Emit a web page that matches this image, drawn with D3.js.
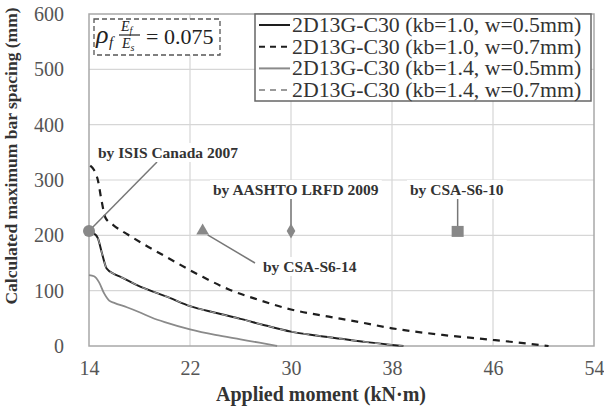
<!DOCTYPE html>
<html>
<head>
<meta charset="utf-8">
<script src="https://cdn.jsdelivr.net/npm/d3@7"></script>
<style>
  body { margin: 0; background: #fff; }
  svg { display: block; }
  svg text { font-family: "Liberation Serif", "Times New Roman", serif; }
</style>
</head>
<body>
<div id="chart"></div>
<script>
// series data (applied moment kN·m, spacing mm)
const s1x = [14, 14.3, 14.7, 15.0, 15.4, 16.0, 16.5, 17.8, 20.4, 22, 24, 26, 28, 30, 32, 34, 36, 38, 38.9];
const s1y = [208, 205, 195, 170, 140, 130, 125, 110, 87, 72, 60, 49, 37, 26, 19, 13, 7, 2, 0];

const s2x = [14.1, 14.4, 14.7, 15.0, 15.3, 15.9, 17.1, 18.4, 20.2, 22, 23, 25, 27.5, 30, 33, 35, 38, 42, 46, 50.4];
const s2y = [326, 318, 300, 262, 232, 219, 201, 183, 160, 137, 125, 103, 83, 66, 53, 45, 32, 20, 11, 0];

const s3x = [14, 14.4, 14.8, 15.2, 15.6, 16, 17, 18, 19, 20, 22, 24, 26, 27.5, 28.9];
const s3y = [128, 126, 115, 95, 82, 78, 70, 61, 51, 43, 30, 20, 12, 6, 0];

// kb=1.4, w=0.7 falls on top of kb=1.0, w=0.5
const s4x = s1x.slice();
const s4y = s1y.slice();

const seriesNames = [
    "2D13G-C30 (kb=1.0, w=0.5mm)",
    "2D13G-C30 (kb=1.0, w=0.7mm)",
    "2D13G-C30 (kb=1.4, w=0.5mm)",
    "2D13G-C30 (kb=1.4, w=0.7mm)"
];

// code limits markers
const markerNames = ["ISIS", "CSA-S6-14", "AASHTO", "CSA-S6-10"];
const markerX = [14, 23, 30, 43.2];
const markerY = [208, 208, 208, 208];

const xTicks = [14, 22, 30, 38, 46, 54];
const yTicks = [0, 100, 200, 300, 400, 500, 600];

const W = 604, H = 407;
const margin = { top: 14, right: 10, bottom: 61, left: 89 };
const width = W - margin.left - margin.right;
const height = H - margin.top - margin.bottom;

const svg = d3.select("#chart").append("svg")
    .attr("width", W).attr("height", H);

const g = svg.append("g")
    .attr("transform", "translate(" + margin.left + "," + margin.top + ")");

const x = d3.scaleLinear().domain([14, 54]).range([0, width]);
const y = d3.scaleLinear().domain([0, 600]).range([height, 0]);

// grid
g.append("g").selectAll("line").data(xTicks.slice(1, -1)).enter().append("line")
    .attr("x1", d => x(d)).attr("x2", d => x(d))
    .attr("y1", 0).attr("y2", height)
    .attr("stroke", "#d6d6d6").attr("stroke-width", 1.2);
g.append("g").selectAll("line").data(yTicks.slice(1, -1)).enter().append("line")
    .attr("x1", 0).attr("x2", width)
    .attr("y1", d => y(d)).attr("y2", d => y(d))
    .attr("stroke", "#d6d6d6").attr("stroke-width", 1.2);

// frame
g.append("rect")
    .attr("x", 0).attr("y", 0).attr("width", width).attr("height", height)
    .attr("fill", "none").attr("stroke", "#a8a8a8").attr("stroke-width", 1.5);

// axes (labels only)
const xAxis = g.append("g")
    .attr("transform", "translate(0," + height + ")")
    .call(d3.axisBottom(x).tickValues(xTicks).tickSize(0).tickPadding(15).tickFormat(d3.format("d")));
xAxis.select(".domain").remove();
xAxis.selectAll("text")
    .attr("fill", "#555").style("font-size", "20px")
    .style("font-family", "'Liberation Serif', serif");

const yAxis = g.append("g")
    .call(d3.axisLeft(y).tickValues(yTicks).tickSize(0).tickPadding(25).tickFormat(d3.format("d")));
yAxis.select(".domain").remove();
yAxis.selectAll("text")
    .attr("fill", "#555").style("font-size", "20px")
    .style("font-family", "'Liberation Serif', serif");

// axis titles
svg.append("text")
    .attr("x", 321).attr("y", 401)
    .attr("text-anchor", "middle")
    .attr("font-weight", "bold").attr("font-size", 20).attr("fill", "#333")
    .text("Applied moment (kN\u00b7m)");

svg.append("text")
    .attr("transform", "translate(17,156) rotate(-90)")
    .attr("text-anchor", "middle")
    .attr("font-weight", "bold").attr("font-size", 17.5).attr("fill", "#333")
    .text("Calculated maximum bar spacing (mm)");

// curves
const line = d3.line().x(d => x(d[0])).y(d => y(d[1])).curve(d3.curveMonotoneX);
const zip = (a, b) => a.map((v, i) => [v, b[i]]);

const styles = [
    { color: "#1e1e1e", dash: null, w: 2 },
    { color: "#1e1e1e", dash: "7,6", w: 2.2 },
    { color: "#8a8a8a", dash: null, w: 1.8 },
    { color: "#9a9a9a", dash: "6,6", w: 1.2 }
];
const seriesData = [zip(s1x, s1y), zip(s2x, s2y), zip(s3x, s3y), zip(s4x, s4y)];

seriesData.forEach((data, i) => {
    g.append("path")
        .datum(data)
        .attr("d", line)
        .attr("fill", "none")
        .attr("stroke", styles[i].color)
        .attr("stroke-width", styles[i].w)
        .attr("stroke-dasharray", styles[i].dash);
});

// leader lines
const mk = markerNames.map((n, i) => ({ name: n, px: x(markerX[i]), py: y(markerY[i]) }));
const leaders = [
    [mk[0].px, mk[0].py, 157 - margin.left, 162 - margin.top],
    [mk[1].px + 5, mk[1].py + 4, 255 - margin.left, 263 - margin.top],
    [mk[2].px, mk[2].py, mk[2].px, 198 - margin.top],
    [mk[3].px, mk[3].py, mk[3].px, 198 - margin.top]
];
leaders.forEach(l => {
    g.append("line")
        .attr("x1", l[0]).attr("y1", l[1]).attr("x2", l[2]).attr("y2", l[3])
        .attr("stroke", "#777").attr("stroke-width", 1.5);
});

// annotation labels with white backgrounds
function label(tx, ty, txt) {
    const lg = g.append("g");
    const bg = lg.append("rect").attr("fill", "#fff");
    const t = lg.append("text")
        .attr("x", tx).attr("y", ty)
        .attr("font-weight", "bold").attr("font-size", 15.5).attr("fill", "#333")
        .text(txt);
    const bb = t.node().getBBox();
    bg.attr("x", bb.x - 3).attr("y", bb.y - 1)
        .attr("width", bb.width + 6).attr("height", bb.height + 2);
}

label(98 - margin.left, 158 - margin.top, "by ISIS Canada 2007");
label(213 - margin.left, 195 - margin.top, "by AASHTO LRFD 2009");
label(410 - margin.left, 195 - margin.top, "by CSA-S6-10");
label(263 - margin.left, 272 - margin.top, "by CSA-S6-14");

// markers
const mcol = "#888";
g.append("circle").attr("cx", mk[0].px).attr("cy", mk[0].py).attr("r", 6).attr("fill", mcol);
g.append("path")
    .attr("transform", "translate(" + mk[1].px + "," + mk[1].py + ")")
    .attr("d", d3.symbol(d3.symbolTriangle, 70)).attr("fill", mcol);
g.append("path")
    .attr("transform", "translate(" + mk[2].px + "," + mk[2].py + ")")
    .attr("d", d3.symbol(d3.symbolDiamond, 65)).attr("fill", mcol);
g.append("rect")
    .attr("x", mk[3].px - 6).attr("y", mk[3].py - 5).attr("width", 12).attr("height", 11)
    .attr("fill", mcol);

// legend
const legend = svg.append("g");
legend.append("rect")
    .attr("x", 255).attr("y", 14).attr("width", 336).attr("height", 87)
    .attr("fill", "#fff").attr("stroke", "#666").attr("stroke-width", 1.5);
seriesNames.forEach((name, i) => {
    const ly = 25 + i * 21.7;
    legend.append("line")
        .attr("x1", 259).attr("x2", 290).attr("y1", ly).attr("y2", ly)
        .attr("stroke", styles[i].color).attr("stroke-width", 2)
        .attr("stroke-dasharray", styles[i].dash ? "6,5" : null);
    legend.append("text")
        .attr("x", 292).attr("y", ly + 7)
        .attr("font-size", 21.8).attr("fill", "#333")
        .text(name);
});

// formula box
const fb = svg.append("g");
fb.append("rect")
    .attr("x", 94).attr("y", 19).attr("width", 126).attr("height", 36)
    .attr("fill", "#fff").attr("stroke", "#555").attr("stroke-width", 1.3)
    .attr("stroke-dasharray", "5,3");
fb.append("text").attr("x", 96).attr("y", 43).attr("font-size", 26)
    .attr("font-style", "italic").attr("fill", "#222").text("\u03c1");
fb.append("text").attr("x", 109).attr("y", 47).attr("font-size", 15)
    .attr("font-style", "italic").attr("fill", "#222").text("f");
fb.append("text").attr("x", 121).attr("y", 31).attr("font-size", 14)
    .attr("font-style", "italic").attr("fill", "#222").text("E")
    .append("tspan").attr("dy", 3).attr("font-size", 10).text("f");
fb.append("line").attr("x1", 119).attr("x2", 140).attr("y1", 35).attr("y2", 35)
    .attr("stroke", "#222").attr("stroke-width", 1.2);
fb.append("text").attr("x", 122).attr("y", 48).attr("font-size", 14)
    .attr("font-style", "italic").attr("fill", "#222").text("E")
    .append("tspan").attr("dy", 3).attr("font-size", 10).text("s");
fb.append("text").attr("x", 146).attr("y", 44).attr("font-size", 22)
    .attr("fill", "#222").text("= 0.075");
</script>
</body>
</html>
